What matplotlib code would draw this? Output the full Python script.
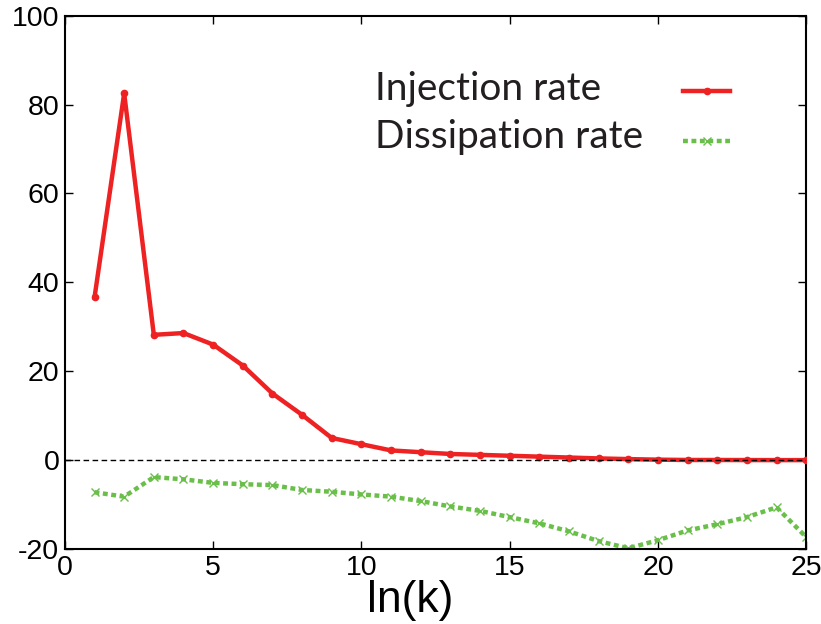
import matplotlib
matplotlib.use("Agg")
import matplotlib.pyplot as plt

# data
k = list(range(1, 26))
injection = [36.6, 82.5, 28.2, 28.6, 26.0, 21.3, 15.0, 10.2, 5.0, 3.6,
             2.2, 1.8, 1.4, 1.2, 1.0, 0.8, 0.6, 0.4, 0.25, 0.12,
             0.05, 0.05, 0.03, 0.02, 0.02]
dissipation = [-7.2, -8.2, -3.8, -4.3, -5.1, -5.4, -5.6, -6.7, -7.1, -7.7,
               -8.2, -9.2, -10.4, -11.4, -12.8, -14.2, -16.0, -18.2, -19.8, -18.0,
               -15.8, -14.4, -12.8, -10.6, -17.3]
xticks = [0, 5, 10, 15, 20, 25]
yticks = [-20, 0, 20, 40, 60, 80, 100]
labels = ['Injection rate', 'Dissipation rate']

plt.rcParams['font.family'] = ['Liberation Sans', 'DejaVu Sans']
plt.rcParams['axes.unicode_minus'] = False

red = '#ee2222'
green = '#6abf4a'
red_style = dict(color=red, lw=3.2, marker='o', ms=4.5, solid_joinstyle='miter')
green_style = dict(color=green, lw=3.2, ls=(0, (1.1, 0.8)), marker='x', ms=6, mew=1.0)

fig = plt.figure(figsize=(8.21, 6.24), dpi=100)
ax = fig.add_axes([0.079, 0.12, 0.903, 0.855])

# zero reference line (drawn over the curves, like gnuplot)
ax.axhline(0, color='black', lw=1.0, ls=(0, (4, 2.5)), zorder=4)

ax.plot(k, injection, zorder=3, **red_style)
ax.plot(k, dissipation, zorder=2, **green_style)

ax.set_xlim(0, 25)
ax.set_ylim(-20, 100)
ax.set_xticks(xticks)
ax.set_yticks(yticks)
ax.tick_params(direction='in', length=6, width=1, labelsize=20.5, pad=4,
               top=True, right=True)
for s in ax.spines.values():
    s.set_linewidth(1.5)

ax.set_xlabel('ln(k)', fontsize=32, labelpad=0)
ax.xaxis.set_label_coords(0.466, -0.057, transform=ax.transAxes)
ax.xaxis.label.set_va('top')

# gnuplot style key: text left aligned, samples on the right
for lab, style, ty, ly in [(labels[0], red_style, 0.842, 0.859),
                           (labels[1], green_style, 0.752, 0.765)]:
    ax.text(0.418, ty, lab, transform=ax.transAxes, family='Lato',
            fontsize=28, va='baseline', ha='left', color='#231f20')
    st = dict(style)
    st['markevery'] = [1]
    ax.plot([0.834, 0.866, 0.897], [ly, ly, ly], transform=ax.transAxes,
            clip_on=False, **st)

fig.savefig('out.png', dpi=100)
